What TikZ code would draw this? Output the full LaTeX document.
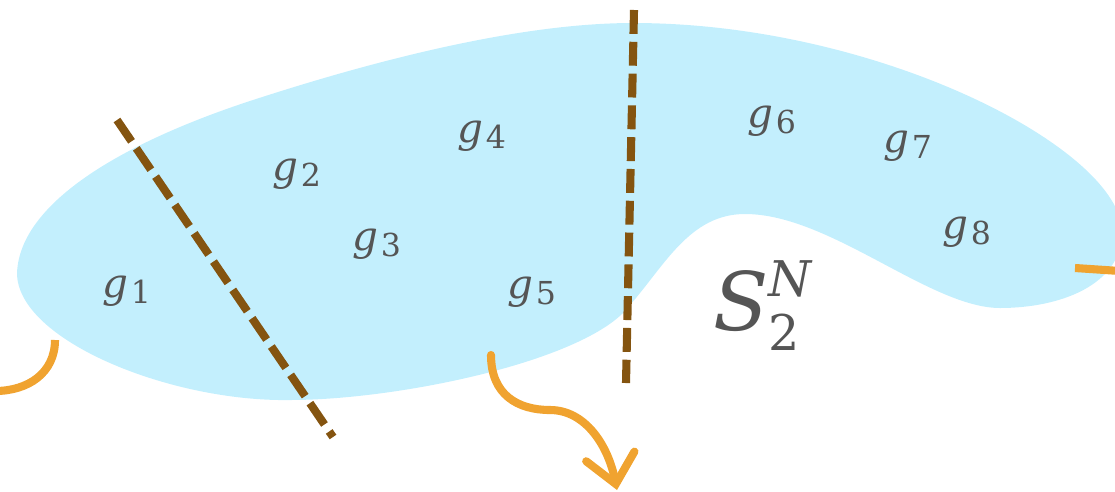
\documentclass[tikz,border=0pt]{standalone}
\usepackage{fontspec}
\setmainfont{DejaVu Serif}
\usetikzlibrary{arrows.meta}
\definecolor{blobblue}{HTML}{C3EFFD}
\definecolor{cutbrown}{HTML}{845410}
\definecolor{flow}{HTML}{F0A330}
\definecolor{lblgray}{HTML}{555555}
\newcommand{\gsub}[1]{\textit{g}\kern1.5pt\raisebox{-3.5pt}{\fontsize{18}{18}\selectfont #1}}

\begin{document}
\begin{tikzpicture}[
  x=0.02cm, y=-0.02cm,
  blob/.style={fill=blobblue},
  cut/.style={draw=cutbrown, line width=4.6pt},
  flowline/.style={draw=flow, line width=4.6pt},
  lbl/.style={text=lblgray, inner sep=0pt, anchor=base west, font=\fontsize{23}{23}\selectfont}
]
  \useasboundingbox (0,0) rectangle (1115,491);

  % the set
  \fill[blob] (17,273) .. controls (20,200) and (130,140) .. (253,100)
    .. controls (376,60) and (520,23) .. (633,23)
    .. controls (880,23) and (1122,150) .. (1122,232)
    .. controls (1122,285) and (1060,308) .. (1000,308)
    .. controls (930,308) and (830,214) .. (745,214)
    .. controls (690,214) and (665,265) .. (630,305)
    .. controls (590,360) and (400,400) .. (290,400)
    .. controls (170,402) and (17,340) .. (17,273) -- cycle;

  % cuts
  \coordinate (c1a) at (117,120);
  \coordinate (c1b) at (333,437);
  \coordinate (c2a) at (634,10);
  \coordinate (c2b) at (626,383);
  \draw[cut, dash pattern=on 14.7pt off 4.8pt] (c1a) -- (c1b);
  \draw[cut, dash pattern=on 13.6pt off 4.5pt] (c2a) -- (c2b);

  % labels
  \node[lbl] (g1) at (102,297) {\gsub{1}};
  \node[lbl] (g2) at (272,180) {\gsub{2}};
  \node[lbl] (g3) at (352,250) {\gsub{3}};
  \node[lbl] (g4) at (457,142) {\gsub{4}};
  \node[lbl] (g5) at (507,298) {\gsub{5}};
  \node[lbl] (g6) at (747,127) {\gsub{6}};
  \node[lbl] (g7) at (883,152) {\gsub{7}};
  \node[lbl] (g8) at (942,238) {\gsub{8}};
  \node[lbl, font=\fontsize{46}{46}\selectfont] (s2n) at (713,330)
    {\textit{S}\rlap{\raisebox{19pt}{\fontsize{28}{28}\selectfont\textit{N}}}\raisebox{-11.5pt}{\fontsize{28}{28}\selectfont 2}};

  % edges leaving the set
  \coordinate (e1) at (55,340);
  \coordinate (e1end) at (-5,391);
  \coordinate (e5) at (491,355);
  \coordinate (e5mid) at (550,410);
  \coordinate (e5end) at (617,490);
  \coordinate (e8) at (1075,268);
  \coordinate (e8end) at (1120,271);
  \draw[flowline] (e1) .. controls (55,373) and (28,391) .. (e1end);
  \draw[flowline, line cap=round, -{Straight Barb[length=16pt, width=28pt, line cap=round]}]
    (e5) .. controls (491,395) and (518,410) .. (e5mid)
    .. controls (585,410) and (608,445) .. (e5end);
  \draw[flowline] (e8) -- (e8end);
\end{tikzpicture}
\end{document}
